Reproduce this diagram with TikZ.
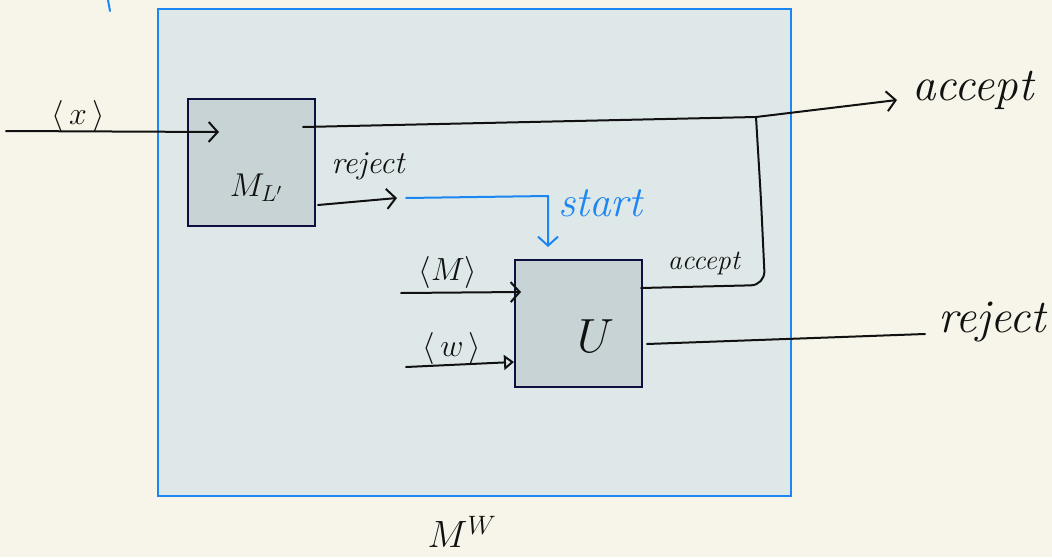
\RequirePackage{fix-cm}
\documentclass[tikz,border=0pt]{standalone}
\usetikzlibrary{arrows.meta}
\definecolor{paper}{HTML}{F7F5EA}
\definecolor{panel}{HTML}{DFE8E9}
\definecolor{boxfill}{HTML}{C8D3D5}
\definecolor{ink}{HTML}{111111}
\definecolor{blueink}{HTML}{1C86F2}
\tikzset{
  machine/.style={draw=ink!80!blue, line width=1.5pt, fill=boxfill, minimum width=127pt, minimum height=127pt, inner sep=0pt},
  wire/.style={draw=ink, line width=2pt, line cap=round, line join=round},
  barb/.style={-{Straight Barb[length=9pt,width=20pt,line width=2pt]}},
  tri/.style={-{Triangle[open,length=10pt,width=15pt,line width=2pt]}},
  lbl/.style={text=ink, inner sep=0pt, font=\fontsize{32}{34}\selectfont\itshape},
  anglbl/.style={text=ink, inner sep=0pt, font=\fontsize{32}{34}\selectfont},
  biglbl/.style={text=ink, inner sep=0pt, font=\fontsize{47}{50}\selectfont\itshape},
}
\begin{document}
\begin{tikzpicture}[x=1pt,y=-1pt]
\fill[paper] (0,0) rectangle (1052,557);
\useasboundingbox (0,0) rectangle (1052,557);
% outer machine M^W
\node[draw=blueink, line width=1.6pt, fill=panel, minimum width=633pt, minimum height=487pt, inner sep=0pt, anchor=north west] (MW) at (157,8) {};
\draw[blueink, line width=2pt, line cap=round] (108,0) -- (110,11);
% inner machines
\node[machine, anchor=north west] (ML) at (187,98) {};
\node[machine, anchor=north west] (U) at (514,259) {};
\node[text=ink, inner sep=0pt, font=\fontsize{33}{36}\selectfont] (MLlbl) at (256,188) {$M_{L'}$};
\node[text=ink, inner sep=0pt, font=\fontsize{48}{52}\selectfont] (Ulbl) at (596,336) {$U$};
\node[text=ink, inner sep=0pt, font=\fontsize{38}{42}\selectfont] (MWlbl) at (462,532) {$M^{W}$};
% coordinates
\coordinate (xin) at (6,131);
\coordinate (xtip) at (219,132);
\coordinate (accStart) at (303,127);
\coordinate (accMid) at (756,117);
\coordinate (accEnd) at (897,100);
\coordinate (rejStart) at (318,205);
\coordinate (rejEnd) at (397,198);
\coordinate (stStart) at (406,198);
\coordinate (stCorner) at (548,196);
\coordinate (stEnd) at (548,247);
\coordinate (min) at (401,293);
\coordinate (mtip) at (521,292);
\coordinate (win) at (406,367);
\coordinate (wtip) at (514,362);
\coordinate (uacc) at (641,288);
\coordinate (join) at (756,117);
\coordinate (urej) at (647,344);
\coordinate (rejOut) at (925,334);
% labels
\node[anglbl] (xlbl) at (78,116) {$\langle\, x\,\rangle$};
\node[biglbl, anchor=west] (acclbl) at (912,90) {accept};
\node[lbl] (rejlbl) at (368,166) {reject};
\node[text=blueink, inner sep=0pt, font=\fontsize{43}{46}\selectfont\itshape, anchor=west] (stlbl) at (558,203) {start};
\node[anglbl] (Mlbl) at (448,272) {$\langle M\rangle$};
\node[anglbl] (wlbl) at (452,348) {$\langle\, w\,\rangle$};
\node[text=ink, inner sep=0pt, font=\fontsize{28}{30}\selectfont\itshape] (uacclbl) at (704,263) {accept};
\node[biglbl, anchor=west] (rejoutlbl) at (938,322) {reject};
% connectors
\draw[wire, barb] (xin) -- (xtip);
\draw[wire, barb] (accStart) -- (accMid) -- (accEnd);
\draw[wire, barb] (rejStart) -- (rejEnd);
\draw[draw=blueink, line width=2pt, line cap=round, line join=round, barb] (stStart) -- (stCorner) -- (stEnd);
\draw[wire, barb] (min) -- (mtip);
\draw[wire, tri] (win) -- (wtip);
\draw[wire, rounded corners=14pt] (uacc) -- (765,285) -- (761,200) -- (join);
\draw[wire] (urej) -- (rejOut);
\end{tikzpicture}
\end{document}
